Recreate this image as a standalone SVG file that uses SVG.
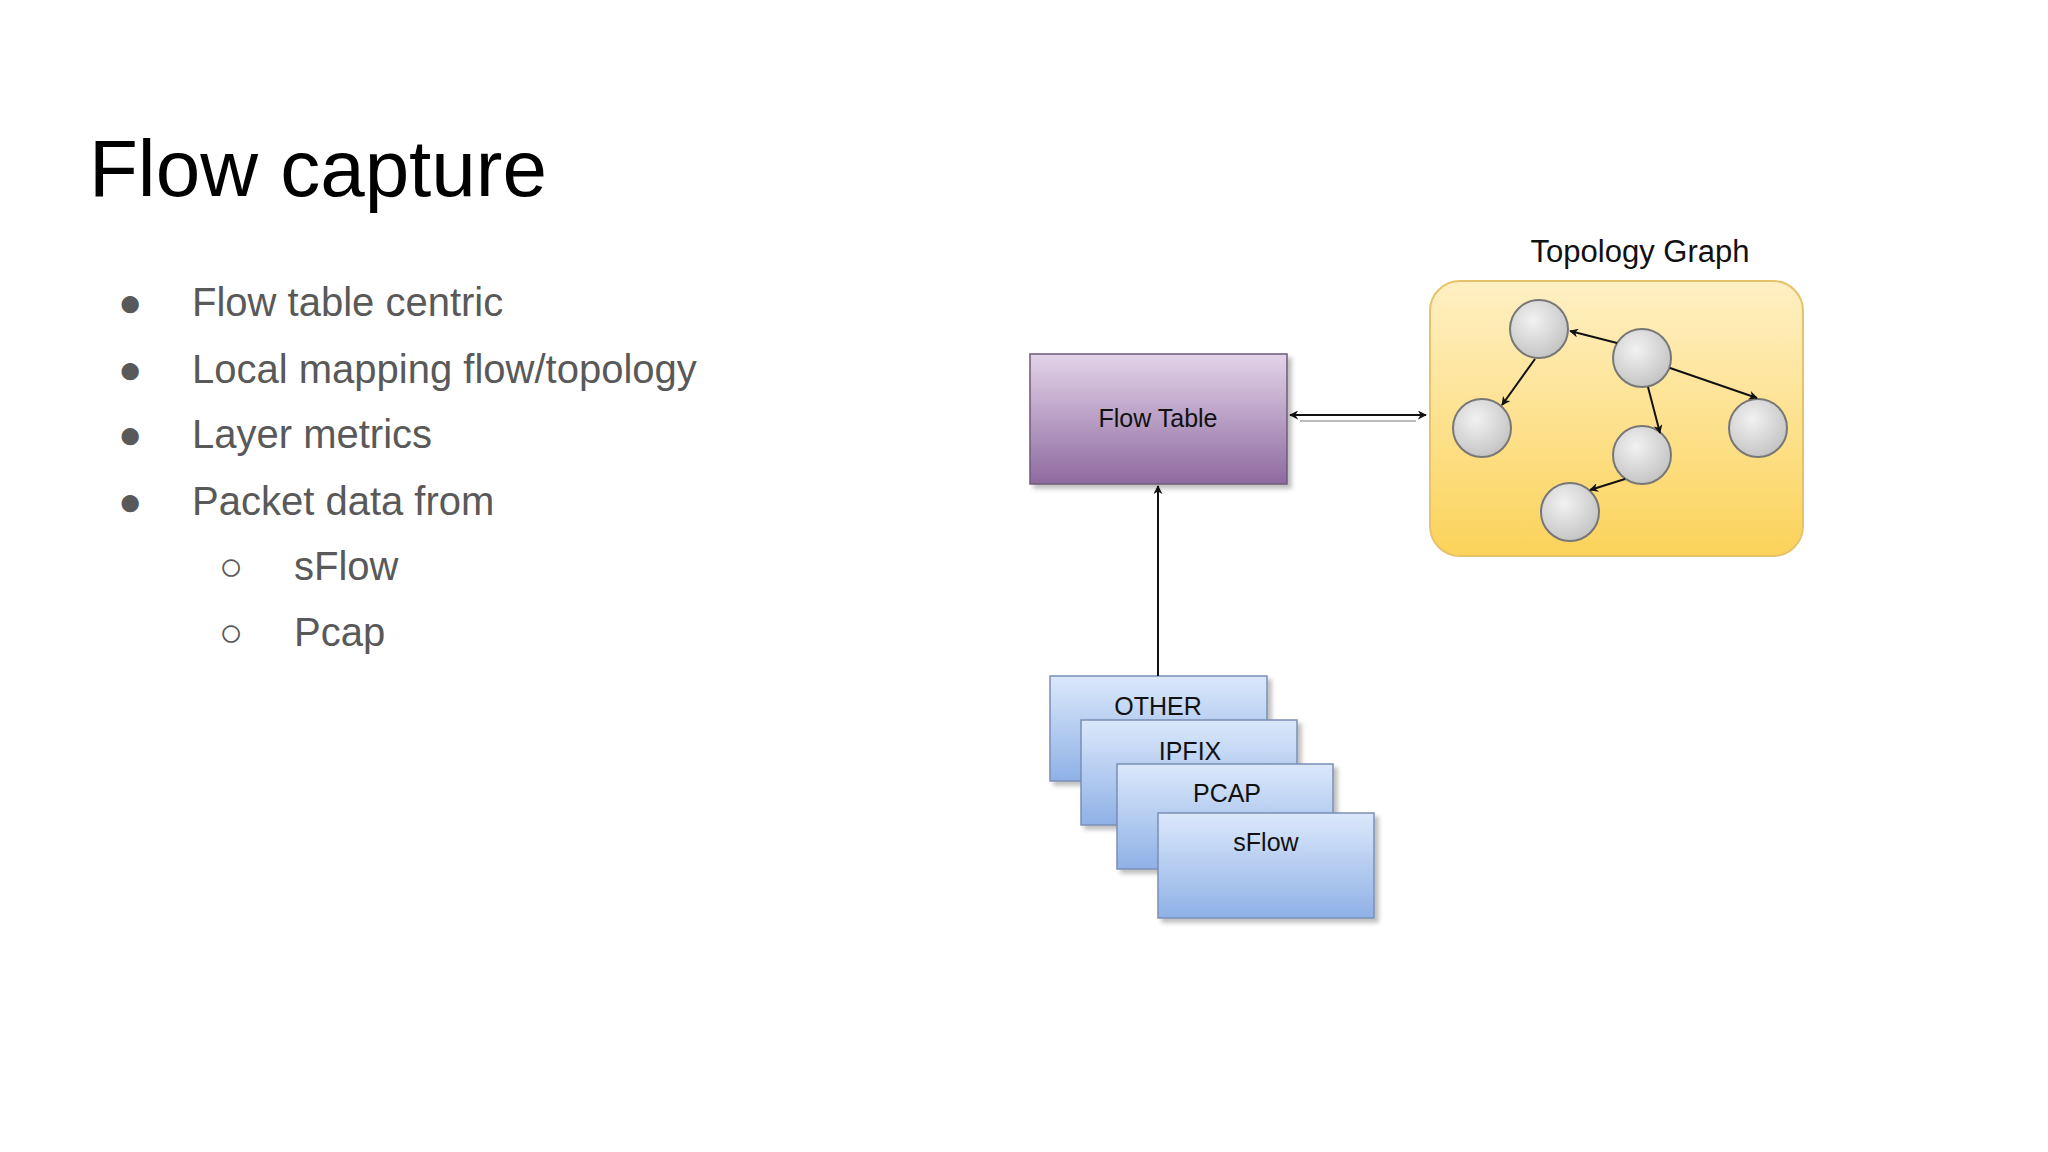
<svg xmlns="http://www.w3.org/2000/svg" width="2048" height="1152" viewBox="0 0 2048 1152">
<style>
.t{font-family:"Liberation Sans",Arial,sans-serif}
.b{font-size:40px;fill:#595959}
.d{font-size:25px;fill:#111;text-anchor:middle}
.n{fill:url(#gn);stroke:#777;stroke-width:2}
.e{stroke:#111;stroke-width:2;fill:none;marker-end:url(#ah)}
.s{fill:url(#gb);stroke:#7a8fb5;stroke-width:1.5;filter:url(#sh)}
</style>
<defs>
<marker id="ah" viewBox="0 0 10 10" refX="9" refY="5" markerWidth="9" markerHeight="9" orient="auto-start-reverse" markerUnits="userSpaceOnUse"><path d="M0,0L10,5L0,10L3,5z" fill="#111"/></marker>
<linearGradient id="gp" x1="0" y1="0" x2="0" y2="1"><stop offset="0" stop-color="#e3d3e8"/><stop offset="1" stop-color="#8e6aa0"/></linearGradient>
<linearGradient id="gy" x1="0" y1="0" x2="0" y2="1"><stop offset="0" stop-color="#fff0c4"/><stop offset="1" stop-color="#fbd35a"/></linearGradient>
<linearGradient id="gb" x1="0" y1="0" x2="0" y2="1"><stop offset="0" stop-color="#dbe8fb"/><stop offset="1" stop-color="#8fb1e6"/></linearGradient>
<radialGradient id="gn" cx="0.4" cy="0.35" r="0.7"><stop offset="0" stop-color="#f2f2f2"/><stop offset="1" stop-color="#c2c2c2"/></radialGradient>
<filter id="sh" x="-10%" y="-10%" width="130%" height="130%"><feDropShadow dx="4" dy="4" stdDeviation="2" flood-color="#000" flood-opacity="0.25"/></filter>
</defs>
<rect width="2048" height="1152" fill="#fff"/>
<text class="t" x="89" y="196" font-size="80" fill="#000">Flow capture</text>
<g class="t b">
<text x="118" y="316">●</text><text x="192" y="316">Flow table centric</text>
<text x="118" y="383">●</text><text x="192" y="383">Local mapping flow/topology</text>
<text x="118" y="448">●</text><text x="192" y="448">Layer metrics</text>
<text x="118" y="515">●</text><text x="192" y="515">Packet data from</text>
<text x="219" y="580">○</text><text x="294" y="580">sFlow</text>
<text x="219" y="646">○</text><text x="294" y="646">Pcap</text>
</g>
<g id="flowtable"><rect x="1030" y="354" width="257" height="130" fill="url(#gp)" stroke="#6d5a78" stroke-width="1.5" filter="url(#sh)"/><text class="t d" x="1158" y="427">Flow Table</text></g>
<g id="topology">
<text class="t" x="1640" y="262" font-size="31" fill="#111" text-anchor="middle">Topology Graph</text>
<rect x="1430" y="281" width="373" height="275" rx="30" fill="url(#gy)" stroke="#e6c36a" stroke-width="2"/>
<circle class="n" cx="1539" cy="329" r="29"/><circle class="n" cx="1642" cy="358" r="29"/>
<circle class="n" cx="1482" cy="428" r="29"/><circle class="n" cx="1642" cy="455" r="29"/>
<circle class="n" cx="1758" cy="428" r="29"/><circle class="n" cx="1570" cy="512" r="29"/>
<line class="e" x1="1617" y1="343" x2="1570" y2="331"/>
<line class="e" x1="1535" y1="359" x2="1502" y2="405"/>
<line class="e" x1="1670" y1="368" x2="1757" y2="398"/>
<line class="e" x1="1648" y1="387" x2="1660" y2="433"/>
<line class="e" x1="1625" y1="479" x2="1590" y2="490"/>
</g>
<g id="s-other"><rect class="s" x="1050" y="676" width="217" height="105"/><text class="t d" x="1158" y="715">OTHER</text></g>
<g id="s-ipfix"><rect class="s" x="1081" y="720" width="216" height="105"/><text class="t d" x="1190" y="760">IPFIX</text></g>
<g id="s-pcap"><rect class="s" x="1117" y="764" width="216" height="105"/><text class="t d" x="1227" y="802">PCAP</text></g>
<g id="s-sflow"><rect class="s" x="1158" y="813" width="216" height="105"/><text class="t d" x="1266" y="851">sFlow</text></g>
<g id="connectors">
<line x1="1290" y1="415" x2="1426" y2="415" stroke="#111" stroke-width="2" marker-start="url(#ah)" marker-end="url(#ah)"/>
<line x1="1300" y1="421" x2="1416" y2="421" stroke="#777" stroke-width="1"/>
<line x1="1158" y1="676" x2="1158" y2="486" stroke="#111" stroke-width="2" marker-end="url(#ah)"/>
</g>
</svg>
